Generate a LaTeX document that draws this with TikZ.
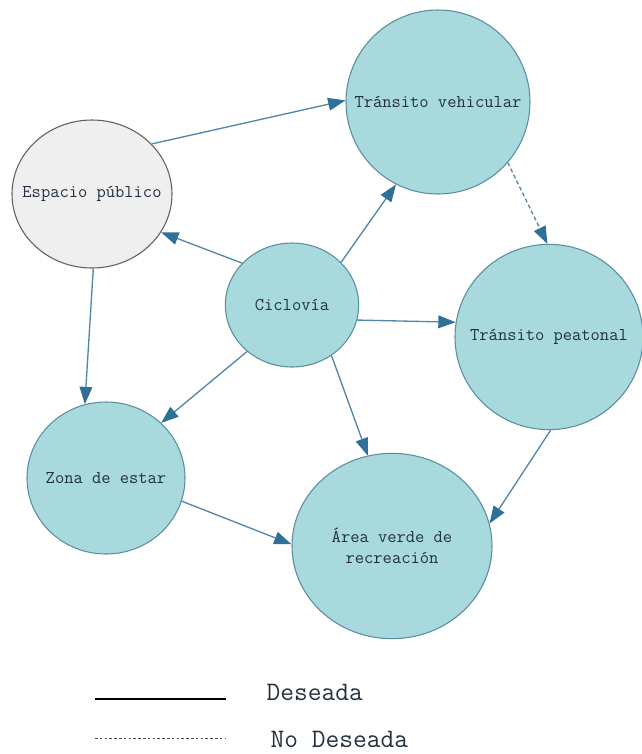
\documentclass[tikz,border=0pt]{standalone}
\usepackage{fontspec}
\usetikzlibrary{shapes.geometric,arrows.meta}
\definecolor{tealfill}{HTML}{A8D9DC}
\definecolor{tealline}{HTML}{5B8EA0}
\definecolor{greyfill}{HTML}{EFEFEF}
\definecolor{greyline}{HTML}{606060}
\definecolor{linkblue}{HTML}{5287A8}
\definecolor{tipblue}{HTML}{2F6F98}
\definecolor{labelink}{HTML}{22303F}
\tikzset{
  bubble/.style={ellipse, draw=tealline, fill=tealfill, line width=0.8pt, inner sep=0pt},
  greybubble/.style={bubble, draw=greyline, fill=greyfill},
  bubbletext/.style={align=center, inner sep=0pt,
    font=\ttfamily\fontsize{13.5}{16}\selectfont, text=labelink},
  link/.style={draw=linkblue, line width=1pt,
    -{Triangle[length=13pt,width=9.5pt,color=tipblue]}},
  weaklink/.style={link, dash pattern=on 3pt off 2pt},
  legendtext/.style={font=\ttfamily\fontsize{20}{24}\selectfont, text=labelink, anchor=west},
}
\begin{document}
\begin{tikzpicture}[x=0.75pt,y=-0.75pt]
\useasboundingbox (0,0) rectangle (642,754);

% bubbles (sizes in pt)
\node[greybubble, minimum width=120pt, minimum height=111pt] (esp) at (92,194) {};
\node[bubble, minimum width=138pt, minimum height=138pt] (tv) at (438,102) {};
\node[bubble, minimum width=100pt, minimum height=93pt] (cic) at (292,305) {};
\node[bubble, minimum width=141pt, minimum height=139pt] (tp) at (549,337) {};
\node[bubble, minimum width=118.5pt, minimum height=114pt] (zona) at (106,478) {};
\node[bubble, minimum width=150pt, minimum height=139pt] (area) at (392,546) {};

% bubble labels
\node[bubbletext] (espT) at (esp) {Espacio público};
\node[bubbletext] (tvT) at (tv) {Tránsito vehicular};
\node[bubbletext] (cicT) at (cic) {Ciclovía};
\node[bubbletext] (tpT) at (tp) {Tránsito peatonal};
\node[bubbletext] (zonaT) at (zona) {Zona de estar};
\node[bubbletext] (areaT) at (area) {Área verde de\\recreación};

% connectors
\draw[link] (esp.40) -- (tv.179);
\draw[link] (cic.140) -- (esp.-29);
\draw[link] (cic.41) -- (tv.-117);
\draw[link] (cic.-13) -- (tp.171);
\draw[link] (cic.-134) -- (zona.45);
\draw[link] (cic.-52) -- (area.105);
\draw[link] (esp.-89) -- (zona.106);
\draw[link] (zona.-17) -- (area.179);
\draw[link] (tp.-89) -- (area.13);
\draw[weaklink] (tv.-41) -- (tp.91);

% legend
\coordinate (solidA) at (95,699);
\coordinate (solidB) at (226,699);
\coordinate (dotA) at (95,738);
\coordinate (dotB) at (226,738);
\draw[black, line width=0.8pt] (solidA) -- (solidB);
\draw[black!70, line width=0.6pt, dash pattern=on 2pt off 1.6pt] (dotA) -- (dotB);
\node[legendtext] (lgA) at (262,692) {Deseada};
\node[legendtext] (lgB) at (266,739) {No Deseada};
\end{tikzpicture}
\end{document}
